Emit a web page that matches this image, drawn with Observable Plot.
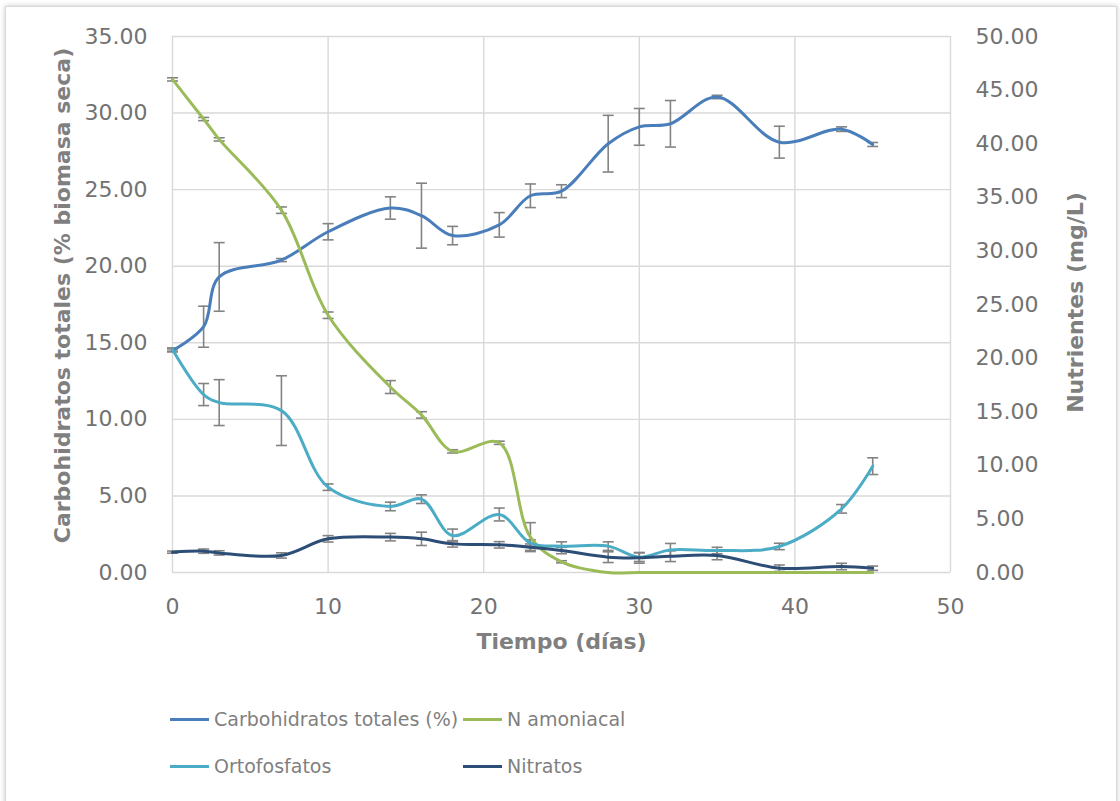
<!DOCTYPE html>
<html><head><meta charset="utf-8">
<script src="https://cdn.jsdelivr.net/npm/d3@7"></script>
<script src="https://cdn.jsdelivr.net/npm/@observablehq/plot@0.6"></script>
<style>
body{margin:0;background:#fff;font-family:"DejaVu Sans",sans-serif;}
#frame{position:absolute;left:5px;top:6px;width:1110px;height:830px;border:1px solid #d9d9d9;box-shadow:0 0 5px rgba(0,0,0,0.22);background:#fff;}
#chart{position:absolute;left:0;top:0;}
#legend{position:absolute;left:0;top:680px;width:1120px;height:121px;}
.item{position:absolute;display:flex;align-items:center;height:30px;font-size:19px;color:#7f7f7f;white-space:nowrap;}
.swatch{width:39px;height:3px;margin-right:5px;}
</style></head><body>
<div id="frame"></div>
<div id="chart"></div>
<div id="legend"></div>
<script>
// Data (días)
const dias = [0, 2, 3, 7, 10, 14, 16, 18, 21, 23, 25, 28, 30, 32, 35, 39, 43, 45];
// Carbohidratos totales (% biomasa seca) — eje izquierdo
const carbohidratos    = [14.5, 16.05, 19.3, 20.4, 22.25, 23.8, 23.3, 22.0, 22.7, 24.6, 24.9, 28.0, 29.1, 29.3, 31.05, 28.1, 28.95, 27.95];
const carbohidratosErr = [0.1, 1.34, 2.24, 0.1, 0.53, 0.73, 2.12, 0.6, 0.8, 0.77, 0.42, 1.85, 1.2, 1.52, 0.11, 1.04, 0.15, 0.13];
// Nutrientes (mg/L) — eje derecho
const nAmoniacal    = [46.0, 42.3, 40.4, 33.8, 24.0, 17.3, 14.7, 11.3, 12.1, 3.3, 1.0, 0, 0, 0, 0, 0, 0, 0];
const nAmoniacalErr = [0.15, 0.15, 0.15, 0.3, 0.3, 0.6, 0.3, 0.15, 0.15, 1.35, 0.1, 0, 0, 0, 0, 0, 0, 0];
const ortofosfatos    = [20.8, 16.6, 15.85, 15.1, 7.96, 6.16, 6.84, 3.45, 5.41, 2.75, 2.46, 2.46, 1.43, 2.11, 2.05, 2.43, 5.94, 9.92];
const ortofosfatosErr = [0.15, 1.03, 2.14, 3.25, 0.3, 0.4, 0.4, 0.6, 0.6, 0.3, 0.4, 0.4, 0.4, 0.6, 0.3, 0.3, 0.4, 0.78];
const nitratos    = [1.9, 1.99, 1.83, 1.59, 3.14, 3.3, 3.14, 2.67, 2.58, 2.36, 2.05, 1.43, 1.37, 1.52, 1.59, 0.4, 0.56, 0.4];
const nitratosErr = [0.1, 0.2, 0.2, 0.25, 0.3, 0.35, 0.62, 0.3, 0.3, 0.3, 0.3, 0.5, 0.5, 0.5, 0.4, 0.3, 0.3, 0.2];

const leftTicks = [0, 5, 10, 15, 20, 25, 30, 35];
const rightTicks = [0, 5, 10, 15, 20, 25, 30, 35, 40, 45, 50];
const xTicks = [0, 10, 20, 30, 40, 50];

const LEFT_MAX = 35, RIGHT_MAX = 50;
const ratio = LEFT_MAX / RIGHT_MAX;

const series = [
  {name: "Carbohidratos totales (%)", values: carbohidratos, err: carbohidratosErr, color: "#4a7ebb", k: 1},
  {name: "N amoniacal", values: nAmoniacal, err: nAmoniacalErr, color: "#9bbb59", k: ratio},
  {name: "Ortofosfatos", values: ortofosfatos, err: ortofosfatosErr, color: "#4bacc6", k: ratio},
  {name: "Nitratos", values: nitratos, err: nitratosErr, color: "#2c4d75", k: ratio}
];

const rows = series.flatMap(s => dias.map((d, i) => ({serie: s.name, dia: d, v: s.values[i] * s.k, e: s.err[i] * s.k})));
const errRows = rows.filter(r => r.e > 0);

const cap = {draw(ctx, size) { const r = Math.sqrt(size / Math.PI); ctx.moveTo(-r, 0); ctx.lineTo(r, 0); }};
const errColor = "#838383";

const chart = Plot.plot({
  width: 1120,
  height: 680,
  marginLeft: 172,
  marginRight: 170,
  marginTop: 36,
  marginBottom: 108,
  style: {fontFamily: "DejaVu Sans, sans-serif", fontSize: "22px", color: "#727272", background: "transparent"},
  x: {domain: [0, 50]},
  y: {domain: [0, LEFT_MAX]},
  color: {domain: series.map(s => s.name), range: series.map(s => s.color)},
  marks: [
    Plot.gridX(xTicks, {stroke: "#d9d9d9", strokeOpacity: 1, strokeWidth: 1.4}),
    Plot.gridY(leftTicks, {stroke: "#d9d9d9", strokeOpacity: 1, strokeWidth: 1.4}),
    Plot.axisX(xTicks, {tickSize: 0, tickPadding: 26, tickFormat: d => String(d), label: null}),
    Plot.axisY(leftTicks, {anchor: "left", tickSize: 0, tickPadding: 25, tickFormat: d => d.toFixed(2), label: null}),
    Plot.axisY(rightTicks.map(v => v * ratio), {anchor: "right", tickSize: 0, tickPadding: 25, tickFormat: d => (d / ratio).toFixed(2), label: null}),
    Plot.ruleX(errRows, {x: "dia", y1: d => d.v - d.e, y2: d => d.v + d.e, stroke: errColor, strokeWidth: 1.6}),
    Plot.dot(errRows, {x: "dia", y: d => d.v + d.e, symbol: cap, r: 5.5, stroke: errColor, strokeWidth: 1.6, fill: "none"}),
    Plot.dot(errRows, {x: "dia", y: d => d.v - d.e, symbol: cap, r: 5.5, stroke: errColor, strokeWidth: 1.6, fill: "none"}),
    ...series.map(s => Plot.line(rows.filter(r => r.serie === s.name), {x: "dia", y: "v", stroke: s.color, strokeWidth: 3, curve: "catmull-rom"})),
    Plot.text(["Carbohidratos totales (% biomasa seca)"], {frameAnchor: "left", textAnchor: "middle", dx: -110, dy: -9, rotate: -90, fontWeight: "bold", fontSize: 22, fill: "#7f7f7f"}),
    Plot.text(["Nutrientes (mg/L)"], {frameAnchor: "right", textAnchor: "middle", dx: 125, dy: -2, rotate: -90, fontWeight: "bold", fontSize: 22, fill: "#7f7f7f"}),
    Plot.text(["Tiempo (días)"], {frameAnchor: "bottom", dy: 76, fontWeight: "bold", fontSize: 22, fill: "#7f7f7f"})
  ]
});
document.getElementById("chart").appendChild(chart);

// Legend
const legendPos = [[170, 24], [463, 24], [170, 71], [463, 71]];
const legend = document.getElementById("legend");
series.forEach((s, i) => {
  const it = document.createElement("div");
  it.className = "item";
  it.style.left = legendPos[i][0] + "px";
  it.style.top = legendPos[i][1] + "px";
  const sw = document.createElement("span");
  sw.className = "swatch";
  sw.style.background = s.color;
  const tx = document.createElement("span");
  tx.textContent = s.name;
  it.appendChild(sw); it.appendChild(tx);
  legend.appendChild(it);
});
</script>
</body></html>
